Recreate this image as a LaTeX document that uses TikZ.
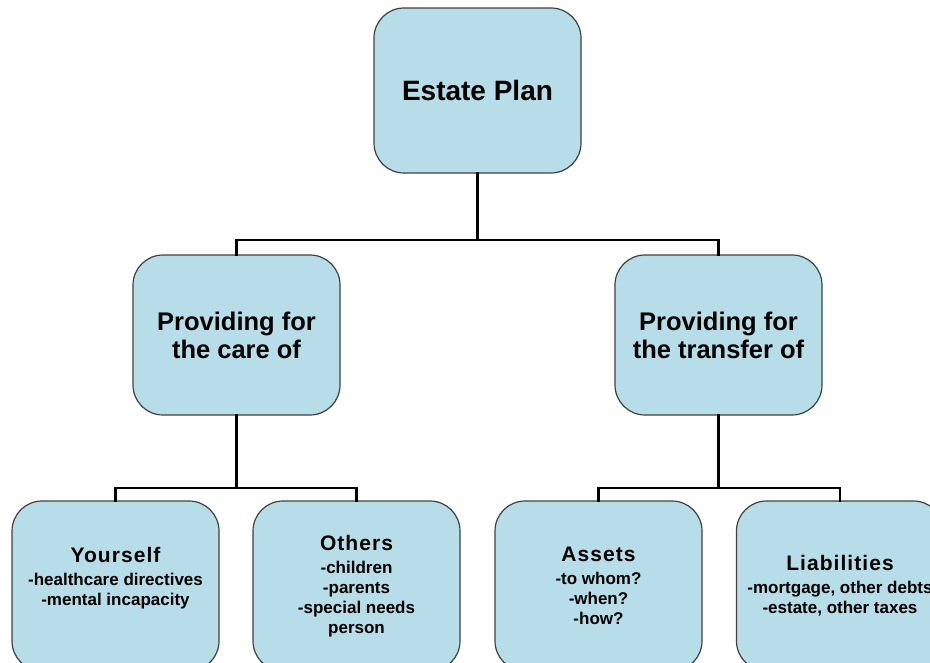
\documentclass[tikz,border=0pt]{standalone}
\usepackage{fontspec}
\setmainfont{Liberation Sans}
\definecolor{boxfill}{HTML}{B7DEE8}
\definecolor{boxline}{HTML}{404040}
\newcommand{\toptitle}{\bfseries\fontsize{28}{32}\selectfont}
\newcommand{\midtitle}{\bfseries\fontsize{25.5}{28}\selectfont}
\newcommand{\leaftitle}{\bfseries\addfontfeature{LetterSpace=5}\fontsize{21}{20}\selectfont}
\newcommand{\leafitem}{\bfseries\fontsize{17}{20}\selectfont}

\begin{document}
\begin{tikzpicture}[x=1pt, y=-1pt,
  planbox/.style={draw=boxline, line width=1.2pt, fill=boxfill,
    rounded corners=30pt, minimum width=207pt, align=center, inner sep=0pt},
  link/.style={line width=2.8pt, line cap=rect}]
  \useasboundingbox (0,0) rectangle (930,662);
  \clip (0,0) rectangle (930,662);

  % top level
  \node[planbox, minimum height=165pt, font=\toptitle] (plan) at (477.5,90.5) {Estate Plan};

  % second level
  \node[planbox, minimum height=160pt, font=\midtitle] (care) at (236.5,335)
    {Providing for\\the care of};
  \node[planbox, minimum height=160pt, font=\midtitle] (transfer) at (718.5,335)
    {Providing for\\the transfer of};

  % leaves
  \node[planbox, minimum height=170pt, font=\leafitem] (self) at (115.5,586)
    {{\leaftitle Yourself}\\[3pt]-healthcare directives\\-mental incapacity\\~};
  \node[planbox, minimum height=170pt, font=\leafitem] (others) at (356.5,586)
    {{\leaftitle Others}\\[3pt]-children\\-parents\\-special needs\\person};
  \node[planbox, minimum height=170pt, font=\leafitem] (assets) at (598.5,586)
    {{\leaftitle Assets}\\[3pt]-to whom?\\-when?\\-how?};
  \node[planbox, minimum height=170pt, font=\leafitem] (debts) at (840,586)
    {{\leaftitle Liabilities}\\[3pt]-mortgage, other debts\\-estate, other taxes};

  % connectors
  \coordinate (bar0) at (477.5,240);
  \coordinate (bar1) at (236.5,488);
  \coordinate (bar2) at (718.5,488);
  \draw[link] (plan.south) -- (bar0) -| (care.north);
  \draw[link] (bar0) -| (transfer.north);
  \draw[link] (care.south) -- (bar1) -| (self.north);
  \draw[link] (bar1) -| (others.north);
  \draw[link] (transfer.south) -- (bar2) -| (assets.north);
  \draw[link] (bar2) -| (debts.north);
\end{tikzpicture}
\end{document}
